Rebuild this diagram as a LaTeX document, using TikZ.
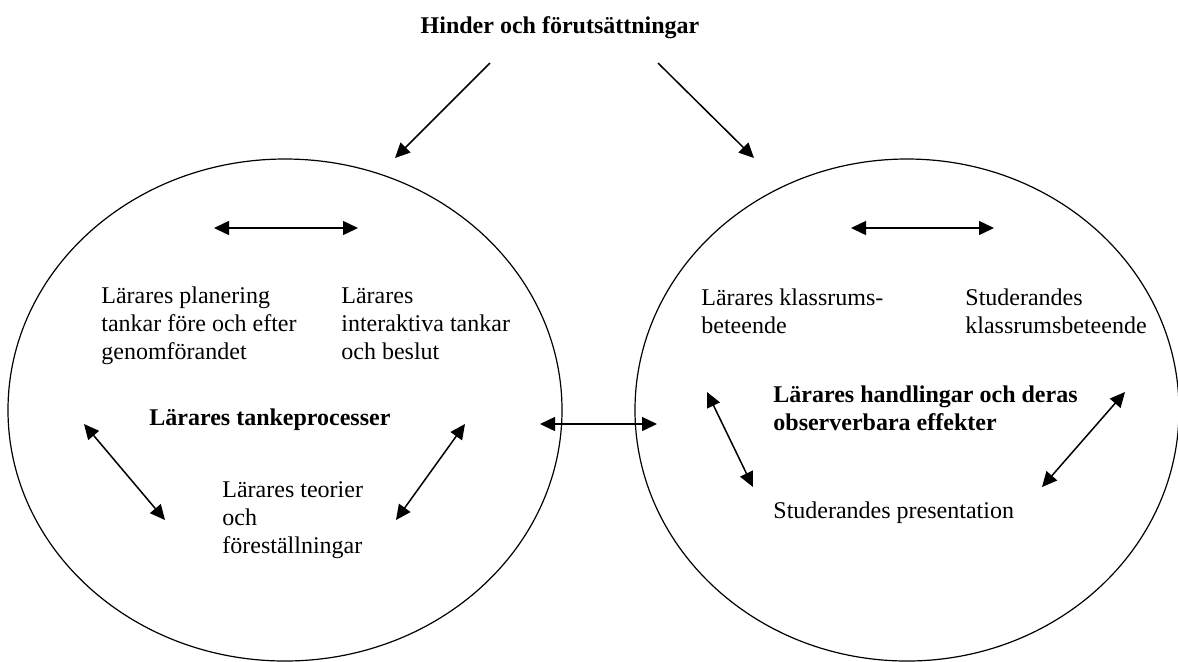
\documentclass[tikz,border=0pt]{standalone}
\usepackage{fontspec}
\setmainfont{Liberation Serif}
\usetikzlibrary{arrows.meta}

\begin{document}
\begin{tikzpicture}[x=0.5pt,y=-0.5pt,>={Triangle[length=7.5pt,width=7pt]},
  every node/.style={font=\fontsize{12}{13.8}\selectfont,inner sep=0pt},
  txt/.style={anchor=base west,align=left},
  bold/.style={font=\fontsize{12}{13.8}\selectfont\bfseries},
  link/.style={->,line width=0.75pt}]
\useasboundingbox (0,0) rectangle (1178,661);
\node[bold,anchor=base] (title) at (560,33) {Hinder och förutsättningar};
% the two circles
\coordinate (think) at (285,410);
\coordinate (act) at (907,410);
\draw[line width=0.6pt] (think) ellipse [x radius=277,y radius=251];
\draw[line width=0.6pt] (act) ellipse [x radius=272,y radius=251];
% arrows from the top
\coordinate (h1) at (490,63); \coordinate (h1e) at (395,158);
\coordinate (h2) at (658,63); \coordinate (h2e) at (754,158);
\draw[link] (h1)--(h1e);
\draw[link] (h2)--(h2e);
% left circle (base = last line)
\node[txt] (plan) at (101,359) {Lärares planering\\tankar före och efter\\genomförandet};
\node[txt] (inter) at (341,359) {Lärares\\interaktiva tankar\\och beslut};
\node[txt,bold] (tanke) at (149,425) {Lärares tankeprocesser};
\node[txt] (teori) at (222,553) {Lärares teorier\\och\\föreställningar};
\coordinate (a1) at (214,228); \coordinate (a2) at (358,228);
\coordinate (p1) at (84,424); \coordinate (p2) at (165,520);
\coordinate (q1) at (465,424); \coordinate (q2) at (396,520);
\draw[link,<->] (a1)--(a2);
\draw[link,<->] (p1)--(p2);
\draw[link,<->] (q1)--(q2);
% between
\coordinate (m1) at (540,424); \coordinate (m2) at (657,424);
\draw[link,<->] (m1)--(m2);
% right circle
\node[txt] (klass) at (701,333) {Lärares klassrums-\\beteende};
\node[txt] (stud) at (965,333) {Studerandes\\klassrumsbeteende};
\node[txt,bold] (handl) at (773,430) {Lärares handlingar och deras\\observerbara effekter};
\node[txt] (pres) at (773,518) {Studerandes presentation};
\coordinate (c1) at (851,228); \coordinate (c2) at (994,228);
\coordinate (r1) at (707,392); \coordinate (r2) at (753,487);
\coordinate (s1) at (1125,392); \coordinate (s2) at (1042,487);
\draw[link,<->] (c1)--(c2);
\draw[link,<->] (r1)--(r2);
\draw[link,<->] (s1)--(s2);
\end{tikzpicture}
\end{document}
